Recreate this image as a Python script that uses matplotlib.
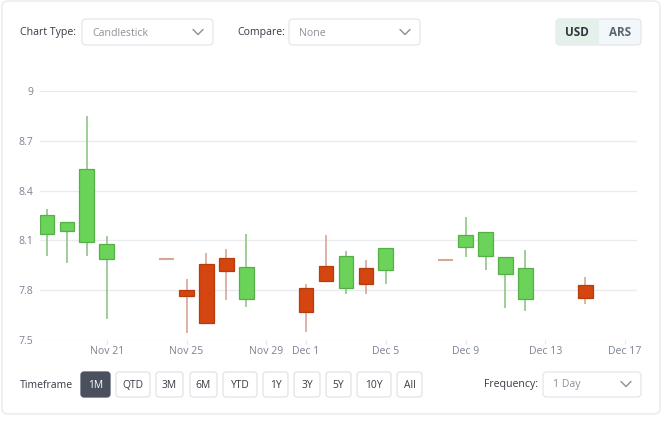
import matplotlib
matplotlib.use("Agg")
import matplotlib.pyplot as plt
import matplotlib.dates as mdates
from matplotlib.patches import FancyBboxPatch, Rectangle
import datetime as dt

# Daily OHLC values
dates = ["2025-11-18", "2025-11-19", "2025-11-20", "2025-11-21", "2025-11-24",
         "2025-11-25", "2025-11-26", "2025-11-27", "2025-11-28", "2025-12-01",
         "2025-12-02", "2025-12-03", "2025-12-04", "2025-12-05", "2025-12-08",
         "2025-12-09", "2025-12-10", "2025-12-11", "2025-12-12", "2025-12-15"]
opens = [8.14, 8.154, 8.089, 7.99, 7.99, 7.80, 7.96, 7.992, 7.746, 7.813,
         7.948, 7.815, 7.936, 7.919, 7.984, 8.059, 8.009, 7.895, 7.75, 7.833]
highs = [8.287, 8.213, 8.852, 8.125, 7.99, 7.869, 8.022, 8.047, 8.136, 7.837,
         8.131, 8.035, 7.982, 8.057, 7.984, 8.24, 8.148, 8.0, 8.041, 7.88]
lows = [8.004, 7.962, 8.004, 7.625, 7.99, 7.54, 7.605, 7.74, 7.698, 7.55,
        7.855, 7.78, 7.778, 7.837, 7.984, 7.998, 7.919, 7.695, 7.675, 7.716]
closes = [8.251, 8.213, 8.531, 8.077, 7.99, 7.764, 7.605, 7.916, 7.938, 7.668,
          7.855, 8.007, 7.839, 8.057, 7.984, 8.13, 8.148, 8.0, 7.932, 7.756]

y_ticks = [7.5, 7.8, 8.1, 8.4, 8.7, 9]
y_labels = ["7.5", "7.8", "8.1", "8.4", "8.7", "9"]
x_ticks = ["2025-11-21", "2025-11-25", "2025-11-29", "2025-12-01",
           "2025-12-05", "2025-12-09", "2025-12-13", "2025-12-17"]
x_labels = ["Nov 21", "Nov 25", "Nov 29", "Dec 1", "Dec 5", "Dec 9", "Dec 13", "Dec 17"]
timeframes = ["1M", "QTD", "3M", "6M", "YTD", "1Y", "3Y", "5Y", "10Y", "All"]

plt.rcParams['font.family'] = ['Open Sans', 'DejaVu Sans']

W, H = 666, 423
fig = plt.figure(figsize=(W / 100, H / 100), dpi=100)

# Background layer in pixel coordinates for the widget chrome
bg = fig.add_axes([0, 0, 1, 1])
bg.set_xlim(0, W)
bg.set_ylim(H, 0)
bg.axis("off")

def box(x0, y0, x1, y1, fc="white", ec="#e3e6ea", r=4, lw=0.9):
    bg.add_patch(FancyBboxPatch((x0, y0), x1 - x0, y1 - y0,
                                boxstyle=f"round,pad=0,rounding_size={r}",
                                fc=fc, ec=ec, lw=lw, mutation_aspect=1))

def chevron(cx, cy):
    bg.plot([cx - 5, cx, cx + 5], [cy - 2.5, cy + 2.5, cy - 2.5],
            color="#8a9099", lw=1.0, solid_capstyle="round")

label_c = "#353b45"
muted = "#8b919a"
fs = 7.6

box(2, 1, 660, 414, ec="#e6e8eb", r=6)

# Top controls
bg.text(20, 33, "Chart Type:", fontsize=fs, color=label_c, va="center")
box(82, 19, 213, 45)
bg.text(92, 33, "Candlestick", fontsize=fs, color=muted, va="center")
chevron(198, 32)
bg.text(237, 33, "Compare:", fontsize=fs, color=label_c, va="center")
box(289, 19, 420, 45)
bg.text(299, 33, "None", fontsize=fs, color=muted, va="center")
chevron(405, 32)

box(556, 19, 641, 45, fc="#f2f7f9", ec="#e3e8ec")
bg.add_patch(Rectangle((556.5, 19.5), 42, 25, fc="#e4f1ea", ec="none"))
bg.text(577, 33, "USD", fontsize=8.4, color="#2f353d", fontweight="bold",
        ha="center", va="center")
bg.text(620, 33, "ARS", fontsize=8.4, color="#5c6470", fontweight="bold",
        ha="center", va="center")

# Bottom controls
bg.text(20, 385, "Timeframe", fontsize=fs, color=label_c, va="center")
btn_x = [(81, 110), (116, 150), (156, 183), (190, 217), (223, 257),
         (263, 288), (294, 320), (326, 351), (357, 391), (397, 422)]
for (x0, x1), lab in zip(btn_x, timeframes):
    active = lab == "1M"
    box(x0, 372, x1, 397, fc="#4b5060" if active else "white",
        ec="#4b5060" if active else "#e0e3e7", r=3)
    bg.text((x0 + x1) / 2, 385, lab, fontsize=7.4,
            color="white" if active else label_c, ha="center", va="center")

bg.text(484, 385, "Frequency:", fontsize=fs, color=label_c, va="center")
box(543, 372, 641, 397)
bg.text(553, 385, "1 Day", fontsize=fs, color=muted, va="center")
chevron(626, 384)

# Candlestick chart
ax = fig.add_axes([40 / W, 1 - 340 / H, 597 / W, (340 - 91) / H])
ax.set_facecolor("none")
d = [mdates.date2num(dt.datetime.strptime(s, "%Y-%m-%d")) for s in dates]
for x, o, h, l, c in zip(d, opens, highs, lows, closes):
    up = c > o
    fill = "#6bd25a" if up else "#d4450f"
    edge = "#55b046" if up else "#b43d0e"
    wick = "#8fc587" if up else "#d8a596"
    ax.vlines(x, l, h, color=wick, lw=1.2, zorder=2)
    if abs(c - o) < 1e-6:
        ax.hlines(o, x - 0.37, x + 0.37, color=wick, lw=1.5, zorder=3)
    else:
        ax.add_patch(Rectangle((x - 0.37, min(o, c)), 0.74, abs(c - o),
                               fc=fill, ec=edge, lw=0.9, zorder=3))

x0 = mdates.date2num(dt.datetime(2025, 11, 21)) - 67 / 20
x1 = mdates.date2num(dt.datetime(2025, 12, 17)) + 12 / 20
ax.set_xlim(x0, x1)
ax.set_ylim(7.5, 9)
ax.set_yticks(y_ticks)
ax.set_yticklabels(y_labels)
ax.set_xticks([mdates.date2num(dt.datetime.strptime(s, "%Y-%m-%d")) for s in x_ticks])
ax.set_xticklabels(x_labels)
ax.grid(axis="y", color="#e9ebf0", lw=1.0, zorder=0)
ax.set_axisbelow(True)
for s in ax.spines.values():
    s.set_visible(False)
ax.tick_params(axis="y", length=0, pad=5, labelsize=7.6, labelcolor="#7c8392")
ax.tick_params(axis="x", length=3, color="#e3e6ea", pad=1, labelsize=7.6,
               labelcolor="#7c8392")

fig.savefig("out.png", dpi=100)
